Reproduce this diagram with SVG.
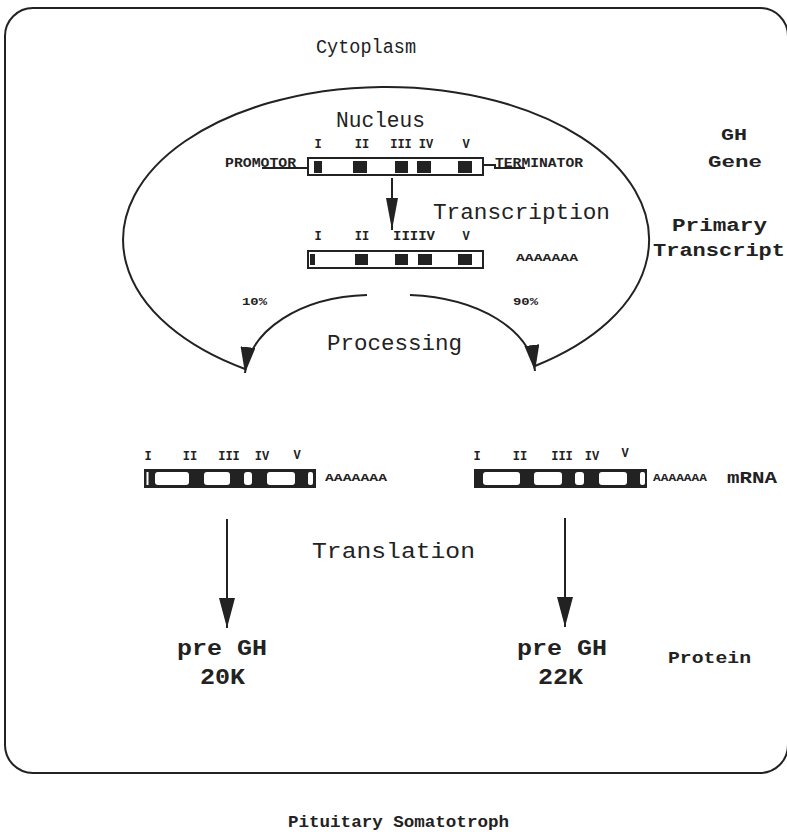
<svg xmlns="http://www.w3.org/2000/svg" width="787" height="832" viewBox="0 0 787 832">
<defs>
<style>
.t{font-family:"Liberation Mono","DejaVu Sans Mono",monospace;fill:#222}
.b{font-weight:bold}
.ln{fill:none;stroke:#222;stroke-width:2}
.ex{fill:#222}
.wh{fill:#fff}
</style>
<marker id="ahT" markerWidth="32" markerHeight="12" refX="32" refY="6" orient="auto" markerUnits="userSpaceOnUse"><path d="M0,0 L32,6 L0,12 Z" fill="#222"/></marker>
<marker id="ahP" markerWidth="26" markerHeight="15" refX="26" refY="7.5" orient="auto" markerUnits="userSpaceOnUse"><path d="M0,0 L26,7.5 L0,15 Z" fill="#222"/></marker>
<marker id="ahL" markerWidth="30" markerHeight="16" refX="30" refY="8" orient="auto" markerUnits="userSpaceOnUse"><path d="M0,0 L30,8 L0,16 Z" fill="#222"/></marker>
</defs>
<rect width="787" height="832" fill="#fff"/>

<g id="cell">
<rect x="5" y="8" width="783" height="765" rx="28" ry="28" class="ln"/>
<text class="t" x="316" y="53" font-size="20" textLength="100" lengthAdjust="spacingAndGlyphs">Cytoplasm</text>
</g>

<g id="nucleus">
<path d="M245,369 A263,153 0 1 1 535,366" class="ln"/>
<text class="t" x="336" y="127" font-size="22" textLength="89" lengthAdjust="spacingAndGlyphs">Nucleus</text>
</g>

<g id="gh-gene">
<text class="t b" x="225" y="167" font-size="12" textLength="71" lengthAdjust="spacingAndGlyphs">PROMOTOR</text>
<text class="t b" x="495" y="167" font-size="12" textLength="88" lengthAdjust="spacingAndGlyphs">TERMINATOR</text>
<line x1="262" y1="168" x2="308" y2="168" class="ln" stroke-width="1.5"/>
<path d="M483,165 L495,165 L495,168 L525,168" class="ln" stroke-width="1.5"/>
<rect x="308" y="158" width="175" height="17" class="ln" stroke-width="2.5"/>
<rect x="314" y="161" width="8" height="12" class="ex"/>
<rect x="353" y="161" width="14" height="12" class="ex"/>
<rect x="395" y="161" width="13" height="12" class="ex"/>
<rect x="417" y="161" width="14" height="12" class="ex"/>
<rect x="458" y="161" width="14" height="12" class="ex"/>
<g class="t b" font-size="12">
<text x="318" y="148" text-anchor="middle">I</text>
<text x="362" y="148" text-anchor="middle">II</text>
<text x="401" y="148" text-anchor="middle">III</text>
<text x="426" y="148" text-anchor="middle">IV</text>
<text x="466" y="148" text-anchor="middle">V</text>
</g>
</g>

<g id="primary-transcript">
<rect x="308" y="251" width="175" height="17" class="ln" stroke-width="2.5"/>
<rect x="310" y="254" width="5" height="11" class="ex"/>
<rect x="355" y="254" width="13" height="11" class="ex"/>
<rect x="395" y="254" width="13" height="11" class="ex"/>
<rect x="418" y="254" width="14" height="11" class="ex"/>
<rect x="458" y="254" width="14" height="11" class="ex"/>
<g class="t b" font-size="12">
<text x="318" y="240" text-anchor="middle">I</text>
<text x="362" y="240" text-anchor="middle">II</text>
<text x="414" y="240" text-anchor="middle" textLength="42" lengthAdjust="spacingAndGlyphs">IIIIV</text>
<text x="466" y="240" text-anchor="middle">V</text>
</g>
<text class="t b" x="516" y="261" font-size="11" textLength="62" lengthAdjust="spacingAndGlyphs">AAAAAAA</text>
</g>

<g id="mrna-20k">
<rect x="144" y="469" width="172" height="19" class="ex"/>
<rect x="146.5" y="472" width="2" height="13" class="wh"/>
<rect x="155" y="472" width="34" height="13" rx="3" class="wh"/>
<rect x="204" y="472" width="26" height="13" rx="3" class="wh"/>
<rect x="244" y="472" width="8" height="13" rx="3" class="wh"/>
<rect x="267" y="472" width="28" height="13" rx="3" class="wh"/>
<rect x="308" y="472" width="5" height="13" rx="2" class="wh"/>
<g class="t b" font-size="12">
<text x="148" y="460" text-anchor="middle">I</text>
<text x="190" y="460" text-anchor="middle">II</text>
<text x="229" y="460" text-anchor="middle">III</text>
<text x="262" y="460" text-anchor="middle">IV</text>
<text x="297" y="459" text-anchor="middle">V</text>
</g>
<text class="t b" x="325" y="481" font-size="11" textLength="62" lengthAdjust="spacingAndGlyphs">AAAAAAA</text>
</g>

<g id="mrna-22k">
<rect x="474" y="469" width="173" height="19" class="ex"/>
<rect x="483" y="472" width="37" height="13" rx="3" class="wh"/>
<rect x="534" y="472" width="28" height="13" rx="3" class="wh"/>
<rect x="575" y="472" width="9" height="13" rx="3" class="wh"/>
<rect x="599" y="472" width="28" height="13" rx="3" class="wh"/>
<rect x="640" y="472" width="5" height="13" rx="2" class="wh"/>
<g class="t b" font-size="12">
<text x="477" y="460" text-anchor="middle">I</text>
<text x="520" y="460" text-anchor="middle">II</text>
<text x="562" y="460" text-anchor="middle">III</text>
<text x="592" y="460" text-anchor="middle">IV</text>
<text x="625" y="457" text-anchor="middle">V</text>
</g>
<text class="t b" x="653" y="481" font-size="11" textLength="54" lengthAdjust="spacingAndGlyphs">AAAAAAA</text>
<text class="t b" x="727" y="483" font-size="17" textLength="50" lengthAdjust="spacingAndGlyphs">mRNA</text>
</g>

<g id="connectors">
<line x1="392" y1="178" x2="392" y2="230" class="ln" marker-end="url(#ahT)"/>
<path d="M367,295 C300,297 250,330 245,373" class="ln" marker-end="url(#ahP)"/>
<path d="M410,295 C480,298 530,330 535,371" class="ln" marker-end="url(#ahP)"/>
<line x1="227" y1="519" x2="227" y2="628" class="ln" marker-end="url(#ahL)"/>
<line x1="565" y1="518" x2="565" y2="627" class="ln" marker-end="url(#ahL)"/>
</g>

<g id="labels">
<text class="t" x="433" y="219" font-size="22" textLength="177" lengthAdjust="spacingAndGlyphs">Transcription</text>
<text class="t b" x="242" y="305" font-size="11" textLength="25" lengthAdjust="spacingAndGlyphs">10%</text>
<text class="t b" x="513" y="305" font-size="11" textLength="25" lengthAdjust="spacingAndGlyphs">90%</text>
<text class="t" x="327" y="350" font-size="22" textLength="135" lengthAdjust="spacingAndGlyphs">Processing</text>
<text class="t" x="312" y="558" font-size="22" textLength="163" lengthAdjust="spacingAndGlyphs">Translation</text>
<text class="t b" x="721" y="140" font-size="17" textLength="26" lengthAdjust="spacingAndGlyphs">GH</text>
<text class="t b" x="708" y="167" font-size="17" textLength="54" lengthAdjust="spacingAndGlyphs">Gene</text>
<text class="t b" x="672" y="231" font-size="19" textLength="95" lengthAdjust="spacingAndGlyphs">Primary</text>
<text class="t b" x="653" y="256" font-size="19" textLength="132" lengthAdjust="spacingAndGlyphs">Transcript</text>
<text class="t b" x="668" y="663" font-size="17" textLength="83" lengthAdjust="spacingAndGlyphs">Protein</text>
<text class="t b" x="288" y="827" font-size="16" textLength="221" lengthAdjust="spacingAndGlyphs">Pituitary Somatotroph</text>
</g>

<g id="protein-20k">
<text class="t b" x="177" y="655" font-size="22" textLength="90" lengthAdjust="spacingAndGlyphs">pre GH</text>
<text class="t b" x="200" y="684" font-size="22" textLength="45" lengthAdjust="spacingAndGlyphs">20K</text>
</g>
<g id="protein-22k">
<text class="t b" x="517" y="655" font-size="22" textLength="90" lengthAdjust="spacingAndGlyphs">pre GH</text>
<text class="t b" x="538" y="684" font-size="22" textLength="45" lengthAdjust="spacingAndGlyphs">22K</text>
</g>
</svg>
